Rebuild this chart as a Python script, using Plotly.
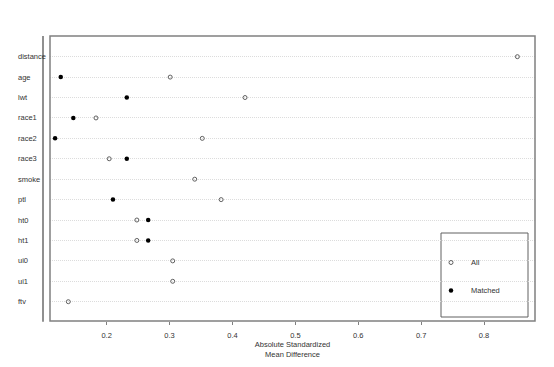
import plotly.graph_objects as go

variables = ["distance", "age", "lwt", "race1", "race2", "race3", "smoke",
             "ptl", "ht0", "ht1", "ui0", "ui1", "ftv"]
all_vals = [0.853, 0.301, 0.420, 0.183, 0.352, 0.204, 0.340,
            0.382, 0.248, 0.248, 0.305, 0.305, 0.139]
matched_vals = [None, 0.127, 0.232, 0.147, 0.118, 0.232, None,
                0.210, 0.266, 0.266, None, None, None]
x_ticks = [0.2, 0.3, 0.4, 0.5, 0.6, 0.7, 0.8]
x_title = "Absolute Standardized<br>Mean Difference"

FONT = "Liberation Sans, Arial, sans-serif"
fs = 7.5
TXT = "#333333"

# page body has an 8px margin; compensate so the plot box sits at x 50..535, y 36..321
L, R, T, B = 35, 27, 28, 54
W, H = 554, 367
PW = W - L - R          # 492
PH = H - T - B          # 285

fig = go.Figure()
fig.add_trace(go.Scatter(
    x=all_vals, y=variables, mode="markers", name="All",
    marker=dict(symbol="circle-open", size=4, color="#606060", line=dict(width=1)),
    legendgroup="a"))
fig.add_trace(go.Scatter(
    x=matched_vals, y=variables, mode="markers", name="Matched",
    marker=dict(symbol="circle", size=4.5, color="#000000"),
    legendgroup="b"))

for v in variables:
    fig.add_annotation(x=0, xref="paper", xshift=-27, xanchor="left",
                       y=v, yref="y", text=v, showarrow=False,
                       font=dict(size=fs, color=TXT, family=FONT))

# plot box
fig.add_shape(type="rect", xref="x domain", yref="y domain",
              x0=0, x1=1, y0=0, y1=1, line=dict(color="#808080", width=1.5))
# separate y axis line
fig.add_shape(type="line", xref="paper", yref="paper", x0=0, x1=0, y0=-0.003, y1=1,
              line=dict(color="#909090", width=2))
# legend box (page px -> paper coords)
def px_x(p):
    return (p - 8 - L) / PW
def px_y(p):
    return (H - B - (p - 8)) / PH

fig.add_shape(type="rect", xref="paper", yref="paper",
              x0=px_x(441), x1=px_x(528), y0=px_y(317), y1=px_y(233),
              line=dict(color="#606060", width=1), fillcolor="white", layer="below")

fig.update_layout(
    width=W, height=H,
    margin=dict(l=L, r=R, t=T, b=B),
    paper_bgcolor="white", plot_bgcolor="white",
    font=dict(family=FONT, size=fs, color=TXT),
    showlegend=True,
    legend=dict(x=px_x(431), xanchor="left",
                y=px_y(248), yanchor="top",
                bgcolor="rgba(0,0,0,0)", borderwidth=0,
                font=dict(size=fs, family=FONT, color=TXT),
                tracegroupgap=9),
    xaxis=dict(domain=[7 / PW, 1], range=[0.1099, 0.881],
               tickvals=x_ticks, ticktext=[str(t) for t in x_ticks],
               ticks="outside", ticklen=3, tickcolor="#808080",
               ticklabelstandoff=4,
               showgrid=False, zeroline=False, showline=False,
               tickfont=dict(size=fs, color=TXT),
               title=dict(text=x_title, font=dict(size=fs, color=TXT), standoff=2)),
    yaxis=dict(type="category", categoryarray=variables, range=[12.945, -1.013],
               showticklabels=False, ticks="", showgrid=True,
               gridcolor="#dcdcdc", griddash="1px,1px", gridwidth=1,
               zeroline=False, showline=False),
)

fig.write_html("out.html")
